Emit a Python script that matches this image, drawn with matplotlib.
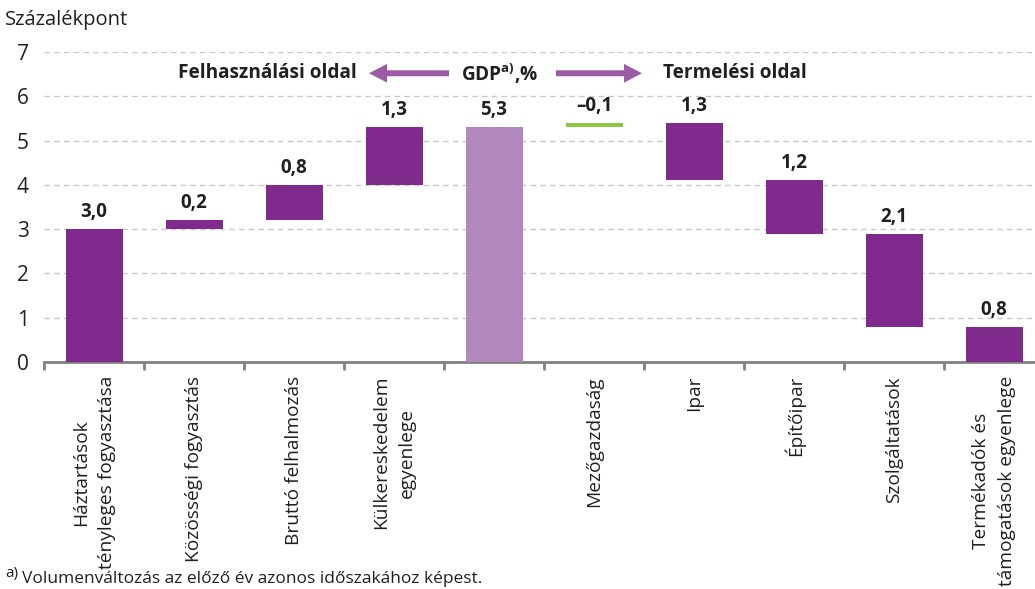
import matplotlib.pyplot as plt
import numpy as np

plt.rcParams['font.family'] = ['Open Sans', 'DejaVu Sans']

# categories (waterfall: left = expenditure side, middle = GDP, right = production side)
categories = ['Háztartások\ntényleges fogyasztása', 'Közösségi fogyasztás',
              'Bruttó felhalmozás', 'Külkereskedelem\negyenlege', '',
              'Mezőgazdaság', 'Ipar', 'Építőipar', 'Szolgáltatások',
              'Termékadók és\ntámogatások egyenlege']
values = [3.0, 0.2, 0.8, 1.3, 5.3, -0.1, 1.3, 1.2, 2.1, 0.8]
bar_bottom = [0.0, 3.0, 3.2, 4.0, 0.0, 5.3, 4.1, 2.9, 0.8, 0.0]
bar_top = [3.0, 3.2, 4.0, 5.3, 5.3, 5.4, 5.4, 4.1, 2.9, 0.8]

purple = '#7f2a8c'
light_purple = '#b088bd'
green = '#8dc63f'
arrow_col = '#9b5ba5'
colors = [purple] * 4 + [light_purple] + [green] + [purple] * 4

fig = plt.figure(figsize=(10.35, 5.89), dpi=100)
ax = fig.add_axes([44 / 1035, 1 - 362 / 589, 1000 / 1035, (362 - 52) / 589])

x = np.arange(len(categories))
heights = np.array(bar_top) - np.array(bar_bottom)
ax.bar(x, heights, bottom=bar_bottom, width=0.57, color=colors, zorder=3)

for i, v in enumerate(values):
    txt = '{:.1f}'.format(abs(v)).replace('.', ',')
    if v < 0:
        txt = '\u2013' + txt
    ax.annotate(txt, (x[i], bar_top[i]), xytext=(0, 5), textcoords='offset points',
                ha='center', va='bottom', fontsize=13.5, fontweight='bold', color='#231f20')

ax.set_xlim(-0.5, len(categories) - 0.5)
ax.set_ylim(0, 7)
ax.set_yticks(range(0, 8))
ax.yaxis.grid(True, linestyle=(0, (4, 3)), color='#c8c8c8', linewidth=1, zorder=0)
ax.tick_params(axis='y', length=0, labelsize=15, pad=11, labelcolor='#231f20')

ax.set_xticks(x)
ax.set_xticklabels(categories, rotation=90, ha='center', va='top',
                   multialignment='center', fontsize=13.8, color='#231f20',
                   linespacing=1.6)
ax.set_xticks(np.arange(-0.5, len(categories), 1.0), minor=True)
ax.tick_params(axis='x', which='major', length=0, pad=10)
ax.tick_params(axis='x', which='minor', length=6, width=2, color='#808080')

for s in ['top', 'right', 'left']:
    ax.spines[s].set_visible(False)
ax.spines['bottom'].set_color('#808080')
ax.spines['bottom'].set_linewidth(2)

# header annotation with arrows
ax.text(2.63, 6.52, 'Felhasználási oldal', ha='right', va='center',
        fontsize=13.7, fontweight='bold', color='#231f20')
ax.text(5.69, 6.52, 'Termelési oldal', ha='left', va='center',
        fontsize=13.7, fontweight='bold', color='#231f20')
ax.text(4.06, 6.52, r'GDP$^{\mathregular{a)}}$,%', ha='center', va='center',
        fontsize=13.7, fontweight='bold', color='#231f20')
arrow_props = dict(facecolor=arrow_col, edgecolor='none', width=4.3,
                   headwidth=13.5, headlength=13, shrink=0)
ax.annotate('', xy=(2.75, 6.52), xytext=(3.55, 6.52), arrowprops=arrow_props)
ax.annotate('', xy=(5.48, 6.52), xytext=(4.62, 6.52), arrowprops=arrow_props)

fig.text(5 / 1035, 1 - 20 / 589, 'Százalékpont', ha='left', va='center',
         fontsize=14.5, color='#231f20')
fig.text(5 / 1035, 1 - 574 / 589, 'a)', ha='left', va='center',
         fontsize=11, color='#231f20')
fig.text(22 / 1035, 1 - 579 / 589, 'Volumenváltozás az előző év azonos időszakához képest.',
         ha='left', va='center', fontsize=12.5, color='#231f20')

fig.savefig('out.png', dpi=100)
